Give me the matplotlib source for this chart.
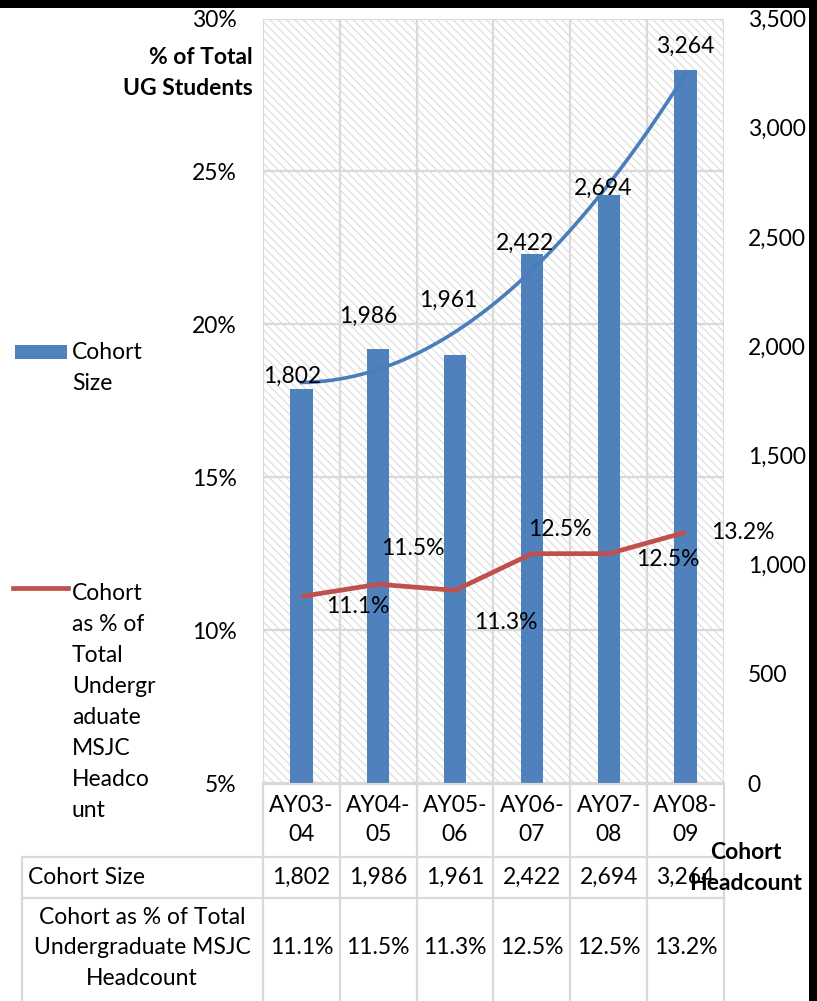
import numpy as np
import matplotlib
matplotlib.use("Agg")
import matplotlib.pyplot as plt
import matplotlib.transforms as mtransforms
from matplotlib.patches import Rectangle

categories = ["AY03-\n04", "AY04-\n05", "AY05-\n06", "AY06-\n07", "AY07-\n08", "AY08-\n09"]
cohort_size = [1802, 1986, 1961, 2422, 2694, 3264]
cohort_pct = [11.1, 11.5, 11.3, 12.5, 12.5, 13.2]
left_ticks = [5, 10, 15, 20, 25, 30]
right_ticks = [0, 500, 1000, 1500, 2000, 2500, 3000, 3500]

BLUE = "#4F81BD"
TREND = "#4A7EBB"
RED = "#C0504D"
GRID = "#D9D9D9"
HATCH = "#DEDEDE"
FONT = "Lato"
FS = 16.5
LS = 1.58

plt.rcParams['font.family'] = [FONT, 'DejaVu Sans']
plt.rcParams['hatch.color'] = HATCH
plt.rcParams['hatch.linewidth'] = 0.9

W, H = 817, 1001
fig = plt.figure(figsize=(W / 100, H / 100), dpi=100)

# overlay axes in pixel coordinates
fa = fig.add_axes([0, 0, 1, 1], zorder=5)
fa.set_xlim(0, W)
fa.set_ylim(H, 0)
fa.axis("off")
fa.patch.set_visible(False)

pl, pr, pt, pb = 263, 724, 18.5, 783
pos = [pl / W, 1 - pb / H, (pr - pl) / W, (pb - pt) / H]

n = len(categories)
x = np.arange(n)

ax = fig.add_axes(pos, zorder=0)
ax.set_xlim(-0.5, n - 0.5)
ax.set_ylim(5, 30)
ax.patch.set_facecolor("white")
ax.add_patch(Rectangle((0, 0), 1, 1, transform=ax.transAxes, facecolor="white",
                       edgecolor=HATCH, linewidth=0, hatch="\\\\\\\\", zorder=0))
ax.set_yticks(left_ticks)
ax.set_yticklabels([f"{t}%" for t in left_ticks], fontsize=FS)
ax.set_xticks(np.arange(-0.5, n, 1.0))
ax.set_xticklabels([])
ax.tick_params(axis="both", length=0)
ax.tick_params(axis="y", pad=19)
ax.grid(True, color=GRID, linewidth=1.6, zorder=1)
ax.set_axisbelow(False)
for s in ax.spines.values():
    s.set_visible(False)

ax2 = fig.add_axes(pos, zorder=1, sharex=ax)
ax2.patch.set_visible(False)
ax2.set_ylim(0, 3500)
ax2.yaxis.tick_right()
ax2.set_yticks(right_ticks)
ax2.set_yticklabels([f"{t:,}" for t in right_ticks], fontsize=FS)
ax2.tick_params(axis="both", length=0)
ax2.tick_params(axis="y", pad=17)
ax2.tick_params(axis="x", labelbottom=False)
for s in ax2.spines.values():
    s.set_visible(False)
ax2.bar(x, cohort_size, width=0.29, color=BLUE, zorder=2)

coef = np.polyfit(x, cohort_size, 2)
xs = np.linspace(0, n - 1, 200)
ax2.plot(xs, np.polyval(coef, xs), color=TREND, linewidth=2.6, zorder=3)

bar_offsets = [(-9, 3), (-10, 22), (-7, 44), (-7, 0), (-6, -4), (0, 13)]
for i, v in enumerate(cohort_size):
    dx, dy = bar_offsets[i]
    ax2.annotate(f"{v:,}", (i, v), xytext=(dx * 0.72, dy * 0.72), textcoords="offset points",
                 ha="center", va="bottom", fontsize=FS, zorder=4)

ax3 = fig.add_axes(pos, zorder=2, sharex=ax)
ax3.set_ylim(5, 30)
ax3.axis("off")
ax3.patch.set_visible(False)
ax3.plot(x, cohort_pct, color=RED, linewidth=3.4, solid_capstyle="butt")
line_offsets = [(56, -10), (35, 36), (51, -32), (28, 24), (59, -6), (57, 0)]
for i, v in enumerate(cohort_pct):
    dx, dy = line_offsets[i]
    ax3.annotate(f"{v}%", (i, v), xytext=(dx * 0.72, dy * 0.72), textcoords="offset points",
                 ha="center", va="center", fontsize=FS)

# axis titles
fa.text(253, 73, "% of Total\nUG Students", ha="right", va="center", fontsize=FS,
        fontweight="bold", linespacing=LS)
fa.text(746, 868, "Cohort\nHeadcount", ha="center", va="center", fontsize=FS,
        fontweight="bold", linespacing=LS)

# legend
fa.add_patch(Rectangle((15, 345), 52, 14, facecolor=BLUE, edgecolor="none"))
fa.text(72, 368, "Cohort\nSize", ha="left", va="center", fontsize=FS, linespacing=LS)
fa.plot([13, 68], [588, 588], color=RED, linewidth=3.4)
fa.text(72, 702, "Cohort\nas % of\nTotal\nUndergr\naduate\nMSJC\nHeadco\nunt", ha="left",
        va="center", fontsize=FS, linespacing=LS)

# data table
bt = mtransforms.blended_transform_factory(ax.transData, fa.transData)
for b in np.arange(-0.5, n, 1.0):
    fa.plot([b, b], [783, H], color=GRID, linewidth=1.6, transform=bt, clip_on=False)
fa.plot([22, 22], [857, H], color=GRID, linewidth=1.6)
for yy in [857, 898]:
    fa.plot([22, pr], [yy, yy], color=GRID, linewidth=1.6)
fa.plot([pl, pr], [783.5, 783.5], color=GRID, linewidth=1.6)

for i, c in enumerate(categories):
    fa.text(i, 820, c, ha="center", va="center", fontsize=FS, linespacing=1.5, transform=bt)
    fa.text(i, 877, f"{cohort_size[i]:,}", ha="center", va="center", fontsize=FS, transform=bt)
    fa.text(i, 948, f"{cohort_pct[i]}%", ha="center", va="center", fontsize=FS, transform=bt)
fa.text(28, 877, "Cohort Size", ha="left", va="center", fontsize=FS)
fa.text(142, 948, "Cohort as % of Total\nUndergraduate MSJC\nHeadcount", ha="center",
        va="center", fontsize=FS, linespacing=LS)

# black frame edges
fa.add_patch(Rectangle((0, 0), W, 8, facecolor="black", edgecolor="none"))
fa.add_patch(Rectangle((809, 0), 8, H, facecolor="black", edgecolor="none"))

fig.savefig("out.png", dpi=100)
